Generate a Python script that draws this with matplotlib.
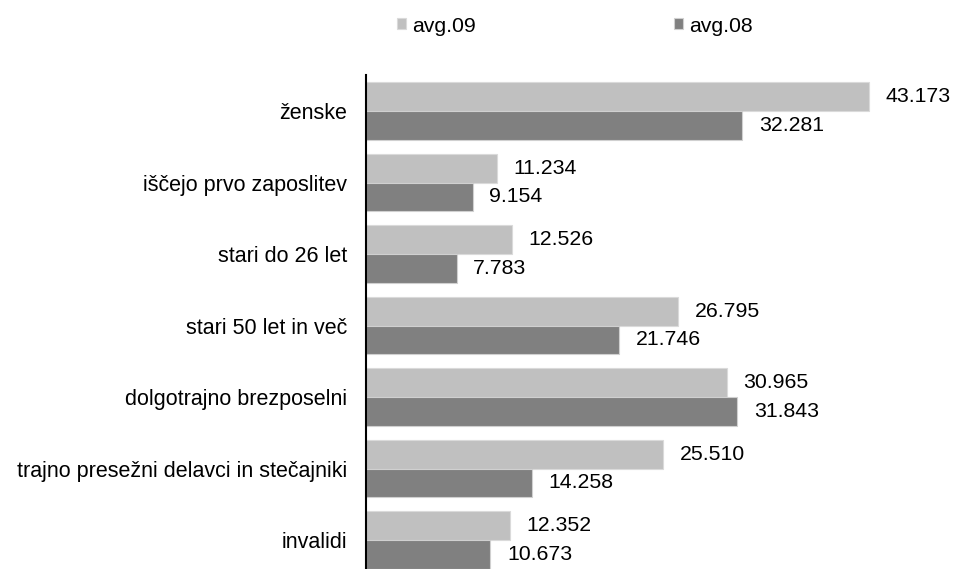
import matplotlib
matplotlib.use("Agg")
import matplotlib.pyplot as plt
import numpy as np

categories = ["ženske", "iščejo prvo zaposlitev", "stari do 26 let", "stari 50 let in več",
              "dolgotrajno brezposelni", "trajno presežni delavci in stečajniki", "invalidi"]
avg09 = [43.173, 11.234, 12.526, 26.795, 30.965, 25.510, 12.352]
avg08 = [32.281, 9.154, 7.783, 21.746, 31.843, 14.258, 10.673]
series_names = ["avg.09", "avg.08"]
colors = ["#c0c0c0", "#808080"]

plt.rcParams['font.family'] = ['Liberation Sans', 'DejaVu Sans']

W, H = 957, 569
fig = plt.figure(figsize=(W/100, H/100), dpi=100)
px = 11.65  # pixels per unit
left, right = 366, 930
top, bottom = 75.25, 575.75
ax = fig.add_axes([left/W, 1-bottom/H, (right-left)/W, (bottom-top)/H])

y = np.arange(len(categories))
h = 0.4
b1 = ax.barh(y - h/2, avg09, height=h, color=colors[0], edgecolor="#dadada", linewidth=0.8, label=series_names[0])
b2 = ax.barh(y + h/2, avg08, height=h, color=colors[1], edgecolor="#d0d0d0", linewidth=0.8, label=series_names[1])

for bars, vals in ((b1, avg09), (b2, avg08)):
    for bar, v in zip(bars, vals):
        ax.annotate(f"{v:.3f}", (v, bar.get_y() + bar.get_height()/2),
                    xytext=(12, 0), textcoords="offset points",
                    va="center", ha="left", fontsize=15.3, color="#000000")

ax.set_xlim(0, (right-left)/px)
ax.set_ylim(len(categories)-0.5, -0.5)
ax.set_yticks(y)
ax.set_yticklabels(categories, fontsize=15.5)
ax.tick_params(axis='y', length=0, pad=13.5)
ax.set_xticks([])
for s in ["top", "right", "bottom"]:
    ax.spines[s].set_visible(False)
ax.spines["left"].set_linewidth(1.5)
ax.spines["left"].set_color("black")

fig.legend(handles=[b1, b2], labels=series_names, loc="center left",
           bbox_to_anchor=(397/W, 1-26/H), ncol=2, frameon=False, fontsize=15.3,
           handlelength=0.42, handleheight=0.42, handletextpad=0.3, columnspacing=9.3,
           borderpad=0, borderaxespad=0)

fig.savefig("out.png", dpi=100)
